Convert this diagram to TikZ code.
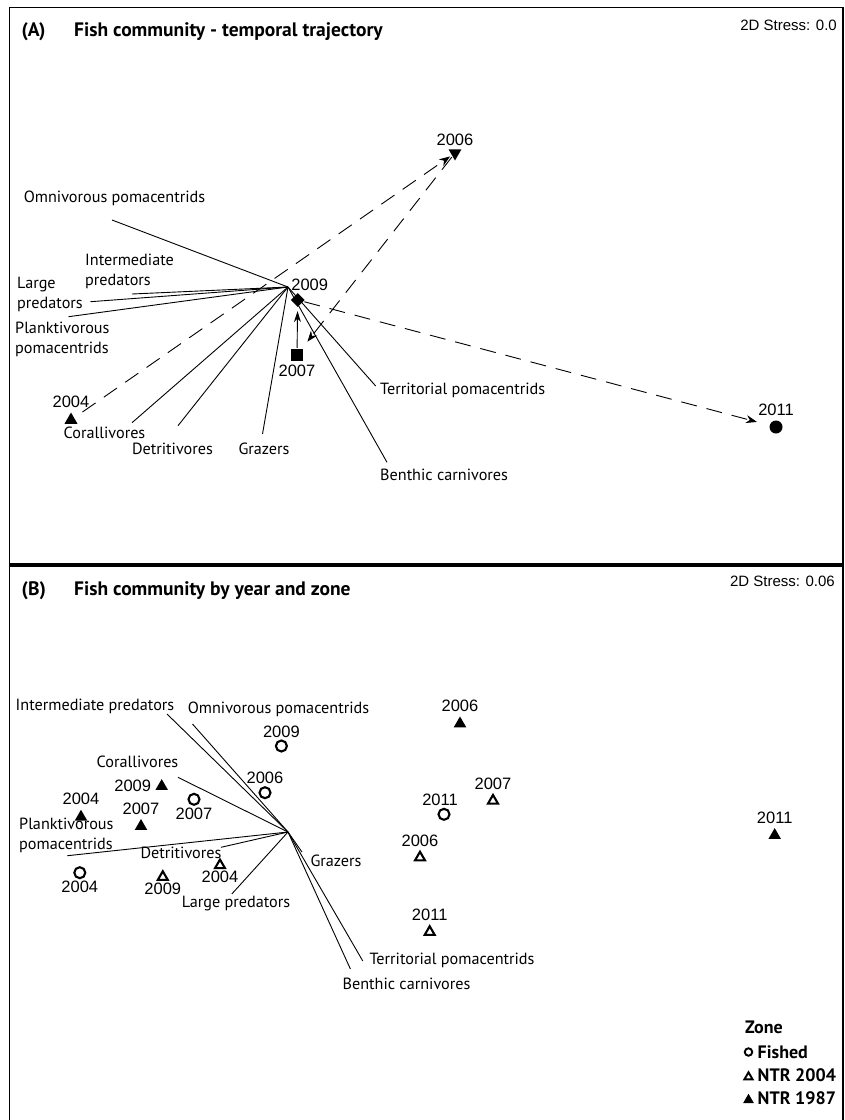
\documentclass[tikz,border=0pt]{standalone}
\usepackage{fontspec}
\setmainfont{PT Sans}
\newfontfamily\numfont{Liberation Sans}
\usetikzlibrary{shapes.geometric, arrows.meta, positioning}

\begin{document}
\begin{tikzpicture}[x=1pt, y=-1pt, node distance=3pt,
    lab/.style={inner sep=0pt, font=\fontsize{16.2}{20}\selectfont},
    lab2/.style={lab, align=left, anchor=west},
    year/.style={inner sep=0pt, font=\numfont\fontsize{16.5}{18}\selectfont},
    stress/.style={inner sep=0pt, anchor=east, font=\numfont\fontsize{15}{18}\selectfont},
    ttl/.style={inner sep=0pt, anchor=base west, font=\bfseries\fontsize{19.5}{22}\selectfont},
    legtxt/.style={inner sep=0pt, font=\bfseries\fontsize{18}{20}\selectfont},
    panel/.style={line width=1.6pt},
    vec/.style={line width=0.9pt},
    traj/.style={line width=0.9pt, dash pattern=on 16pt off 10pt, -{Stealth[length=11pt, width=8pt]}},
    uptri/.style={regular polygon, regular polygon sides=3, fill=black, inner sep=0pt, minimum size=15pt},
    dntri/.style={uptri, shape border rotate=180},
    sqmark/.style={rectangle, fill=black, inner sep=0pt, minimum size=12pt},
    dimark/.style={diamond, fill=black, inner sep=0pt, minimum size=14pt},
    dotmark/.style={circle, fill=black, inner sep=0pt, minimum size=13pt},
    fished/.style={circle, draw, line width=2.1pt, inner sep=0pt, minimum size=11pt},
    ntrold/.style={uptri, minimum size=14.5pt},
    ntrnew/.style={regular polygon, regular polygon sides=3, draw, line width=2.1pt, inner sep=0pt, minimum size=11.5pt}]

\useasboundingbox (0,0) rectangle (845,1120);
\draw[panel] (9.5,7.5) rectangle (843,564);
\draw[panel] (9.5,566) rectangle (843,1130);

\node[ttl] (pa) at (21.5,36) {(A)};
\node[ttl] (ta) at (74,36) {Fish community - temporal trajectory};
\node[stress] (sa) at (837,25) {2D Stress: 0.0};

\coordinate (huba) at (288,287);
\coordinate (omna) at (112,220);
\coordinate (inta) at (132,294);
\coordinate (lrga) at (90.5,301.7);
\coordinate (plka) at (68.5,316.7);
\coordinate (cora) at (132,422.7);
\coordinate (deta) at (178,425.7);
\coordinate (graa) at (262.5,434);
\coordinate (tera) at (375.7,386);
\coordinate (bena) at (387,462.3);
\foreach \v in {omna,inta,lrga,plka,cora,deta,graa,tera,bena}
  \draw[vec] (huba) -- (\v);

\node[lab] (omnalab) at (114.5,198) {Omnivorous pomacentrids};
\node[lab2] (intalab) at (85,271.5) {Intermediate\\predators};
\node[lab2] (lrgalab) at (17,294.5) {Large\\predators};
\node[lab2] (plkalab) at (15,339.5) {Planktivorous\\pomacentrids};
\node[lab] (coralab) at (104.5,433) {Corallivores};
\node[lab] (detalab) at (172.5,449) {Detritivores};
\node[lab] (graalab) at (264,449) {Grazers};
\node[lab, anchor=west] (teralab) at (380,390.7) {Territorial pomacentrids};
\node[lab, anchor=west] (benalab) at (380,475) {Benthic carnivores};

\node[uptri] (a2004) at (71,420) {};
\node[dntri] (a2006) at (455,153) {};
\node[sqmark] (a2007) at (297,355) {};
\node[dimark] (a2009) at (297.7,300) {};
\node[dotmark] (a2011) at (776,427) {};
\node[year, above=4pt of a2004] (a2004lab) {2004};
\node[year, above=3pt of a2006] (a2006lab) {2006};
\node[year, below=4pt of a2007] (a2007lab) {2007};
\node[year, above=2pt of a2009, xshift=12pt] (a2009lab) {2009};
\node[year, above=4pt of a2011] (a2011lab) {2011};

\draw[traj, shorten <=10pt, shorten >=2pt] (a2004) -- (a2006);
\draw[traj, shorten <=1pt, shorten >=9pt] (a2006) -- (a2007);
\draw[vec, -{Stealth[length=11pt, width=7pt]}, shorten <=1pt, shorten >=4pt] (a2007) -- (a2009);
\draw[traj, shorten <=1pt, shorten >=13pt] (a2009) -- (a2011);

\node[ttl] (pb) at (21.5,595) {(B)};
\node[ttl] (tb) at (74,595) {Fish community by year and zone};
\node[stress] (sb) at (835,581) {2D Stress: 0.06};

\coordinate (hubb) at (288,832);
\coordinate (intb) at (167,714);
\coordinate (omnb) at (192.5,724);
\coordinate (corb) at (178,777.3);
\coordinate (plkb) at (67.4,855.7);
\coordinate (detb) at (221,847.3);
\coordinate (lrgb) at (231.8,894);
\coordinate (grab) at (302,852);
\coordinate (terb) at (362.8,961);
\coordinate (benb) at (350.4,969);
\foreach \v in {intb,omnb,corb,plkb,detb,lrgb,grab,terb,benb}
  \draw[vec] (hubb) -- (\v);

\node[lab] (intblab) at (95,706) {Intermediate predators};
\node[lab] (omnblab) at (278.5,709) {Omnivorous pomacentrids};
\node[lab] (corblab) at (137.5,761.7) {Corallivores};
\node[lab2] (plkblab) at (19,835.7) {Planktivorous\\pomacentrids};
\node[lab] (detblab) at (181,852.7) {Detritivores};
\node[lab] (lrgblab) at (236,903.3) {Large predators};
\node[lab] (grablab) at (336,860.7) {Grazers};
\node[lab] (terblab) at (452,960.7) {Territorial pomacentrids};
\node[lab] (benblab) at (406.5,984.3) {Benthic carnivores};

\node[fished] (f2009) at (281.4,746) {};
\node[fished] (f2006) at (265,792.7) {};
\node[fished] (f2007) at (194,799.3) {};
\node[fished] (f2004) at (79.8,872.7) {};
\node[fished] (f2011) at (444,814.3) {};
\node[ntrold] (o2009) at (161.7,786.3) {};
\node[ntrold] (o2004) at (81,817) {};
\node[ntrold] (o2007) at (141,826.3) {};
\node[ntrold] (o2006) at (460,723.7) {};
\node[ntrold] (o2011) at (774.7,835.3) {};
\node[ntrnew] (n2009) at (162.8,877) {};
\node[ntrnew] (n2004) at (220,865.3) {};
\node[ntrnew] (n2006) at (420,857.5) {};
\node[ntrnew] (n2007) at (493,800.7) {};
\node[ntrnew] (n2011) at (429.7,932) {};

\node[year, above=2pt of f2009] (f2009lab) {2009};
\node[year, above=2pt of f2006] (f2006lab) {2006};
\node[year, below=2pt of f2007] (f2007lab) {2007};
\node[year, below=2pt of f2004] (f2004lab) {2004};
\node[year, above=2pt of f2011, xshift=-4pt] (f2011lab) {2011};
\node[year, left=6pt of o2009] (o2009lab) {2009};
\node[year, above=4pt of o2004] (o2004lab) {2004};
\node[year, above=4pt of o2007] (o2007lab) {2007};
\node[year, above=4pt of o2006] (o2006lab) {2006};
\node[year, above=4pt of o2011] (o2011lab) {2011};
\node[year, below=2pt of n2009] (n2009lab) {2009};
\node[year, below=2pt of n2004] (n2004lab) {2004};
\node[year, above=3pt of n2006] (n2006lab) {2006};
\node[year, above=3pt of n2007] (n2007lab) {2007};
\node[year, above=3pt of n2011] (n2011lab) {2011};

\node[legtxt, anchor=west] (zone) at (745,1027) {Zone};
\node[fished, minimum size=7.5pt, line width=1.9pt] (lfished) at (748.5,1052) {};
\node[ntrnew, minimum size=9.5pt, line width=1.9pt] (lntrnew) at (748.5,1077) {};
\node[ntrold, minimum size=12.5pt] (lntrold) at (748.5,1100) {};
\node[legtxt, anchor=west] (lfishedlab) at (757.5,1052) {Fished};
\node[legtxt, anchor=west] (lntrnewlab) at (757.5,1075) {NTR 2004};
\node[legtxt, anchor=west] (lntroldlab) at (757.5,1098) {NTR 1987};
\end{tikzpicture}
\end{document}
